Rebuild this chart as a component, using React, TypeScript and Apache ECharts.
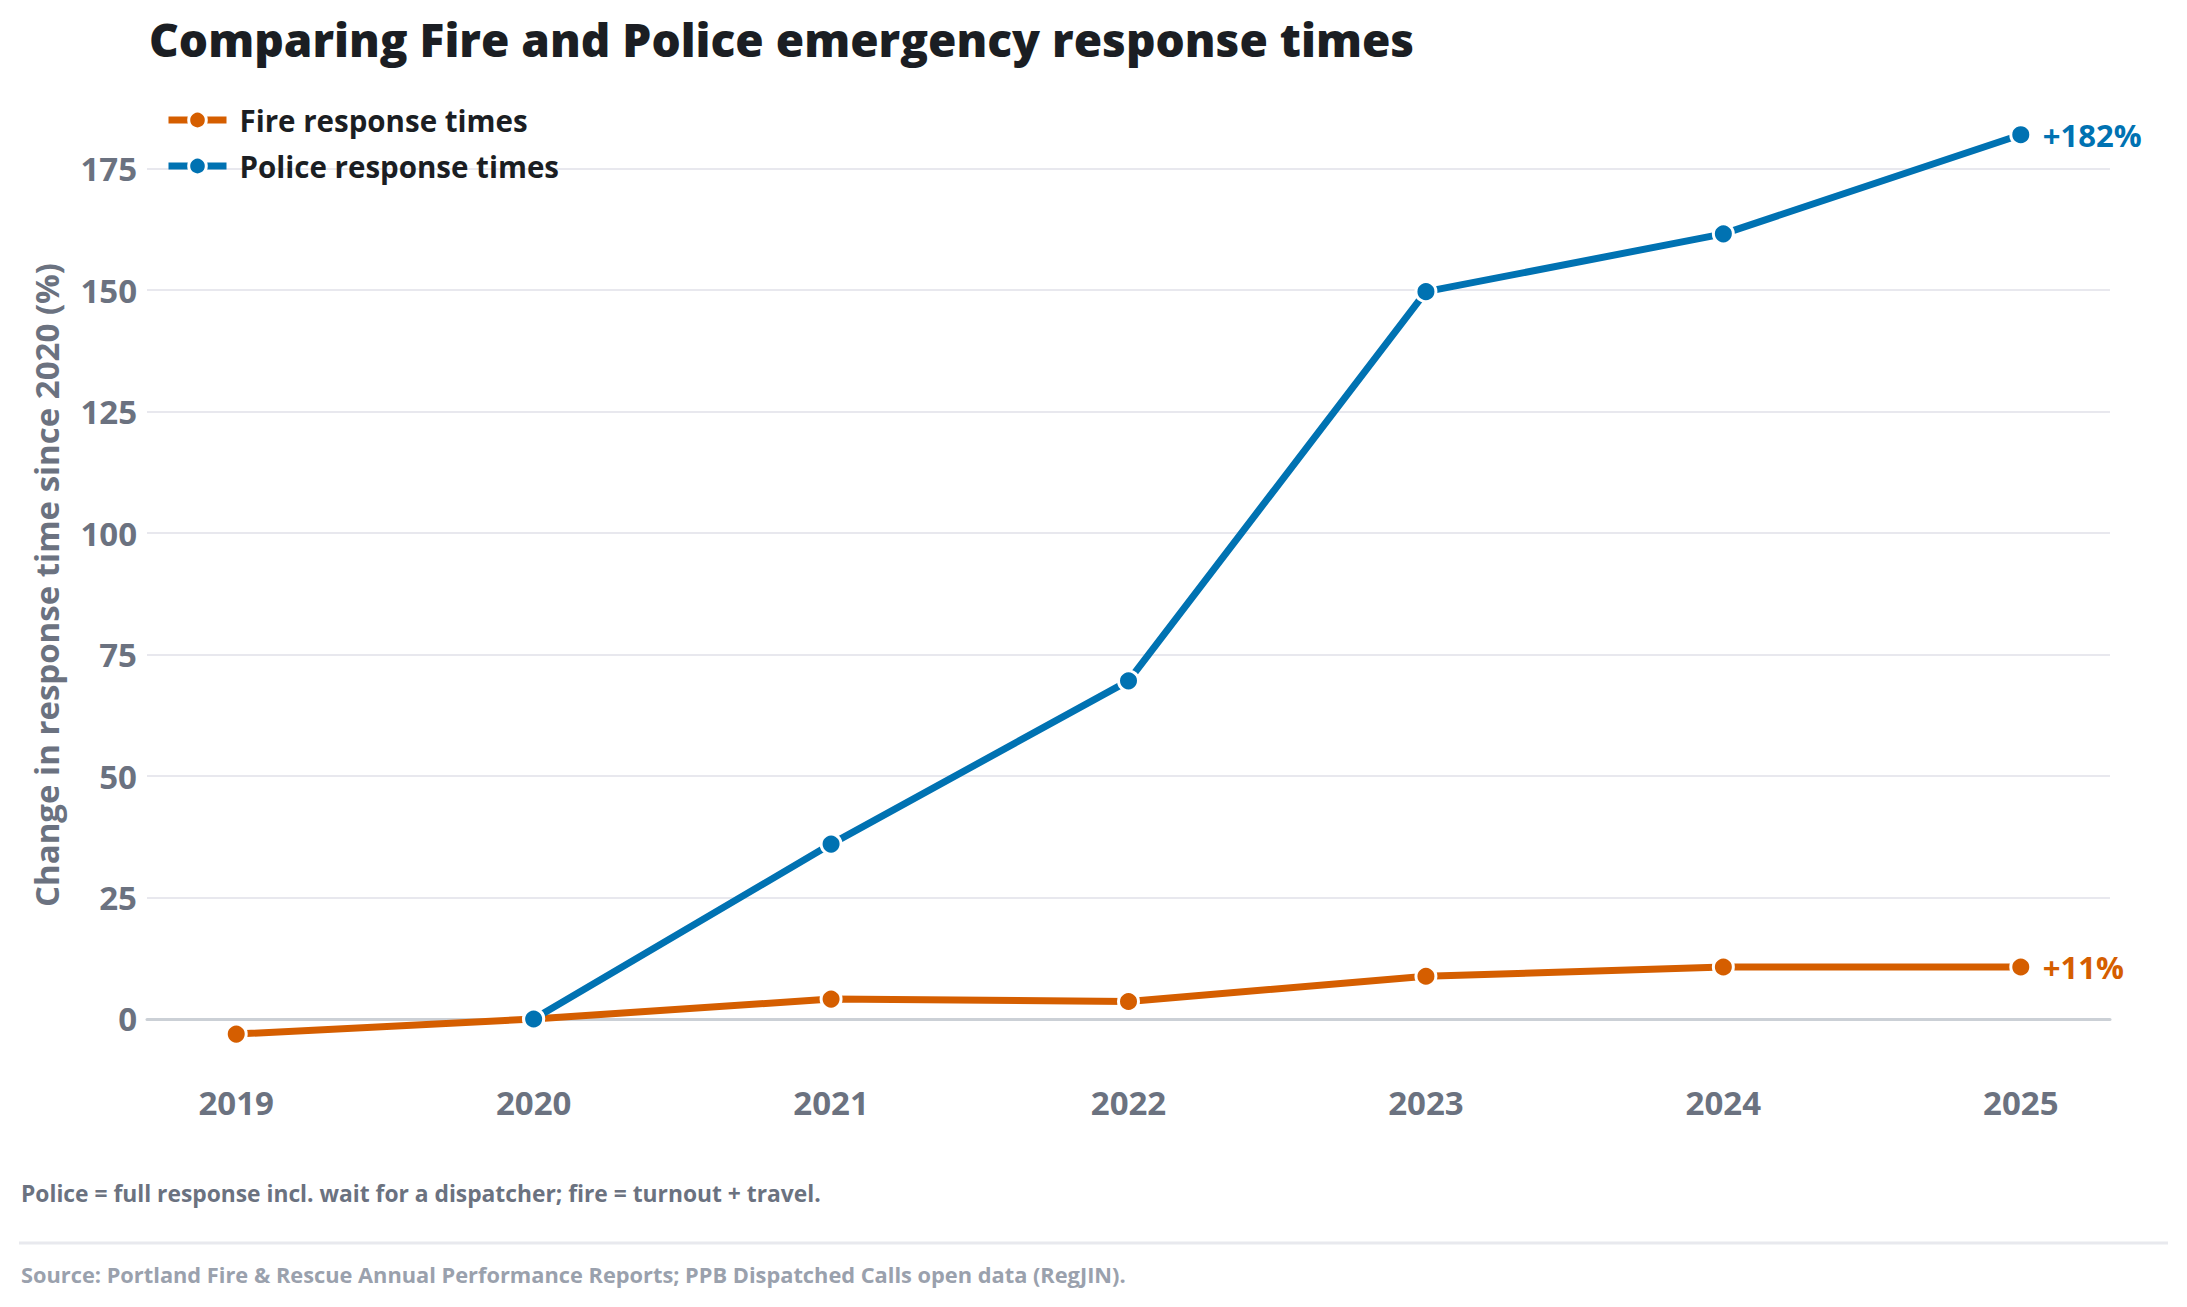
import { useEffect, useRef } from 'react';
import * as echarts from 'echarts';

const years = [2019, 2020, 2021, 2022, 2023, 2024, 2025];
// % change in response time vs 2020 (null = no data)
const fireChange = [-3.1, 0, 4.1, 3.6, 8.8, 10.7, 10.7];
const policeChange: (number | null)[] = [null, 0, 36.0, 69.6, 149.7, 161.6, 182.0];
const yTicks = [0, 25, 50, 75, 100, 125, 150, 175];

const FONT = '"Open Sans", "Noto Sans", sans-serif';
const FIRE = '#D55E00';
const POLICE = '#0072B2';
const TICK_GRAY = '#6b7280';

const toPoints = (values: (number | null)[]) =>
  values
    .map((v, i) => [years[i], v] as [number, number | null])
    .filter((d) => d[1] !== null);

export default function App() {
  const chartRef = useRef<HTMLDivElement | null>(null);

  useEffect(() => {
    document.body.style.margin = '0';
    document.body.style.overflow = 'hidden';
    if (!chartRef.current) return;

    const chart = echarts.init(chartRef.current, null, { renderer: 'svg' });

    const lineSeries = (name: string, color: string, values: (number | null)[]) => ({
      name,
      type: 'line',
      data: toPoints(values),
      symbol: 'circle',
      symbolSize: 20,
      lineStyle: { color, width: 7 },
      itemStyle: { color, borderColor: '#fff', borderWidth: 3 },
      endLabel: {
        show: true,
        distance: 22,
        formatter: (p: any) => '+' + Math.round(p.value[1]) + '%',
        color,
        fontFamily: FONT,
        fontWeight: 'bold',
        fontSize: 31
      },
      emphasis: { disabled: true }
    });

    chart.setOption({
      animation: false,
      title: {
        text: 'Comparing Fire and Police emergency response times',
        left: 144,
        top: 11,
        textStyle: {
          fontFamily: FONT,
          fontWeight: 800,
          fontSize: 46,
          color: '#1b1e23'
        }
      },
      legend: {
        orient: 'vertical',
        left: 160,
        top: 100,
        itemWidth: 58,
        itemHeight: 22,
        itemGap: 16,
        lineStyle: { width: 7 },
        itemStyle: { borderColor: '#fff', borderWidth: 3 },
        textStyle: {
          fontFamily: FONT,
          fontWeight: 'bold',
          fontSize: 29.5,
          color: '#1b1e23',
          padding: [0, 0, 0, 8]
        },
        data: ['Fire response times', 'Police response times']
      },
      grid: { left: 147, right: 77, top: 91, bottom: 228 },
      xAxis: {
        type: 'value',
        min: 2018.7,
        max: 2025.3,
        axisLine: { show: true, lineStyle: { color: '#cbd0d6', width: 3 } },
        axisTick: { show: false },
        splitLine: { show: false },
        axisLabel: {
          customValues: years,
          formatter: (v: number) => String(v),
          margin: 7,
          fontFamily: FONT,
          fontWeight: 'bold',
          fontSize: 33,
          color: TICK_GRAY
        }
      },
      yAxis: {
        type: 'value',
        min: -12.35,
        max: 191,
        name: 'Change in response time since 2020 (%)',
        nameLocation: 'middle',
        nameGap: 84,
        nameTextStyle: {
          fontFamily: FONT,
          fontWeight: 'bold',
          fontSize: 33,
          color: TICK_GRAY
        },
        axisLine: { show: false },
        axisTick: { show: false, customValues: yTicks },
        splitLine: { show: true, lineStyle: { color: '#e8e8ee', width: 2 } },
        axisLabel: {
          customValues: yTicks,
          margin: 10,
          fontFamily: FONT,
          fontWeight: 'bold',
          fontSize: 33,
          color: TICK_GRAY
        }
      },
      series: [
        lineSeries('Fire response times', FIRE, fireChange),
        lineSeries('Police response times', POLICE, policeChange)
      ],
      graphic: [
        {
          type: 'text',
          left: 21,
          top: 1182,
          style: {
            text: 'Police = full response incl. wait for a dispatcher; fire = turnout + travel.',
            fontFamily: FONT,
            fontWeight: 'bold',
            fontSize: 22.8,
            fill: TICK_GRAY
          }
        },
        {
          type: 'line',
          shape: { x1: 19, y1: 1243, x2: 2168, y2: 1243 },
          style: { stroke: '#e8e9ee', lineWidth: 3 }
        },
        {
          type: 'text',
          left: 21,
          top: 1263,
          style: {
            text: 'Source: Portland Fire & Rescue Annual Performance Reports; PPB Dispatched Calls open data (RegJIN).',
            fontFamily: FONT,
            fontWeight: 'bold',
            fontSize: 21.8,
            fill: '#9aa1ad'
          }
        }
      ]
    });

    const onResize = () => chart.resize();
    window.addEventListener('resize', onResize);

    return () => {
      window.removeEventListener('resize', onResize);
      chart.dispose();
    };
  }, []);

  return <div ref={chartRef} style={{ width: 2187, height: 1307 }} />;
}
